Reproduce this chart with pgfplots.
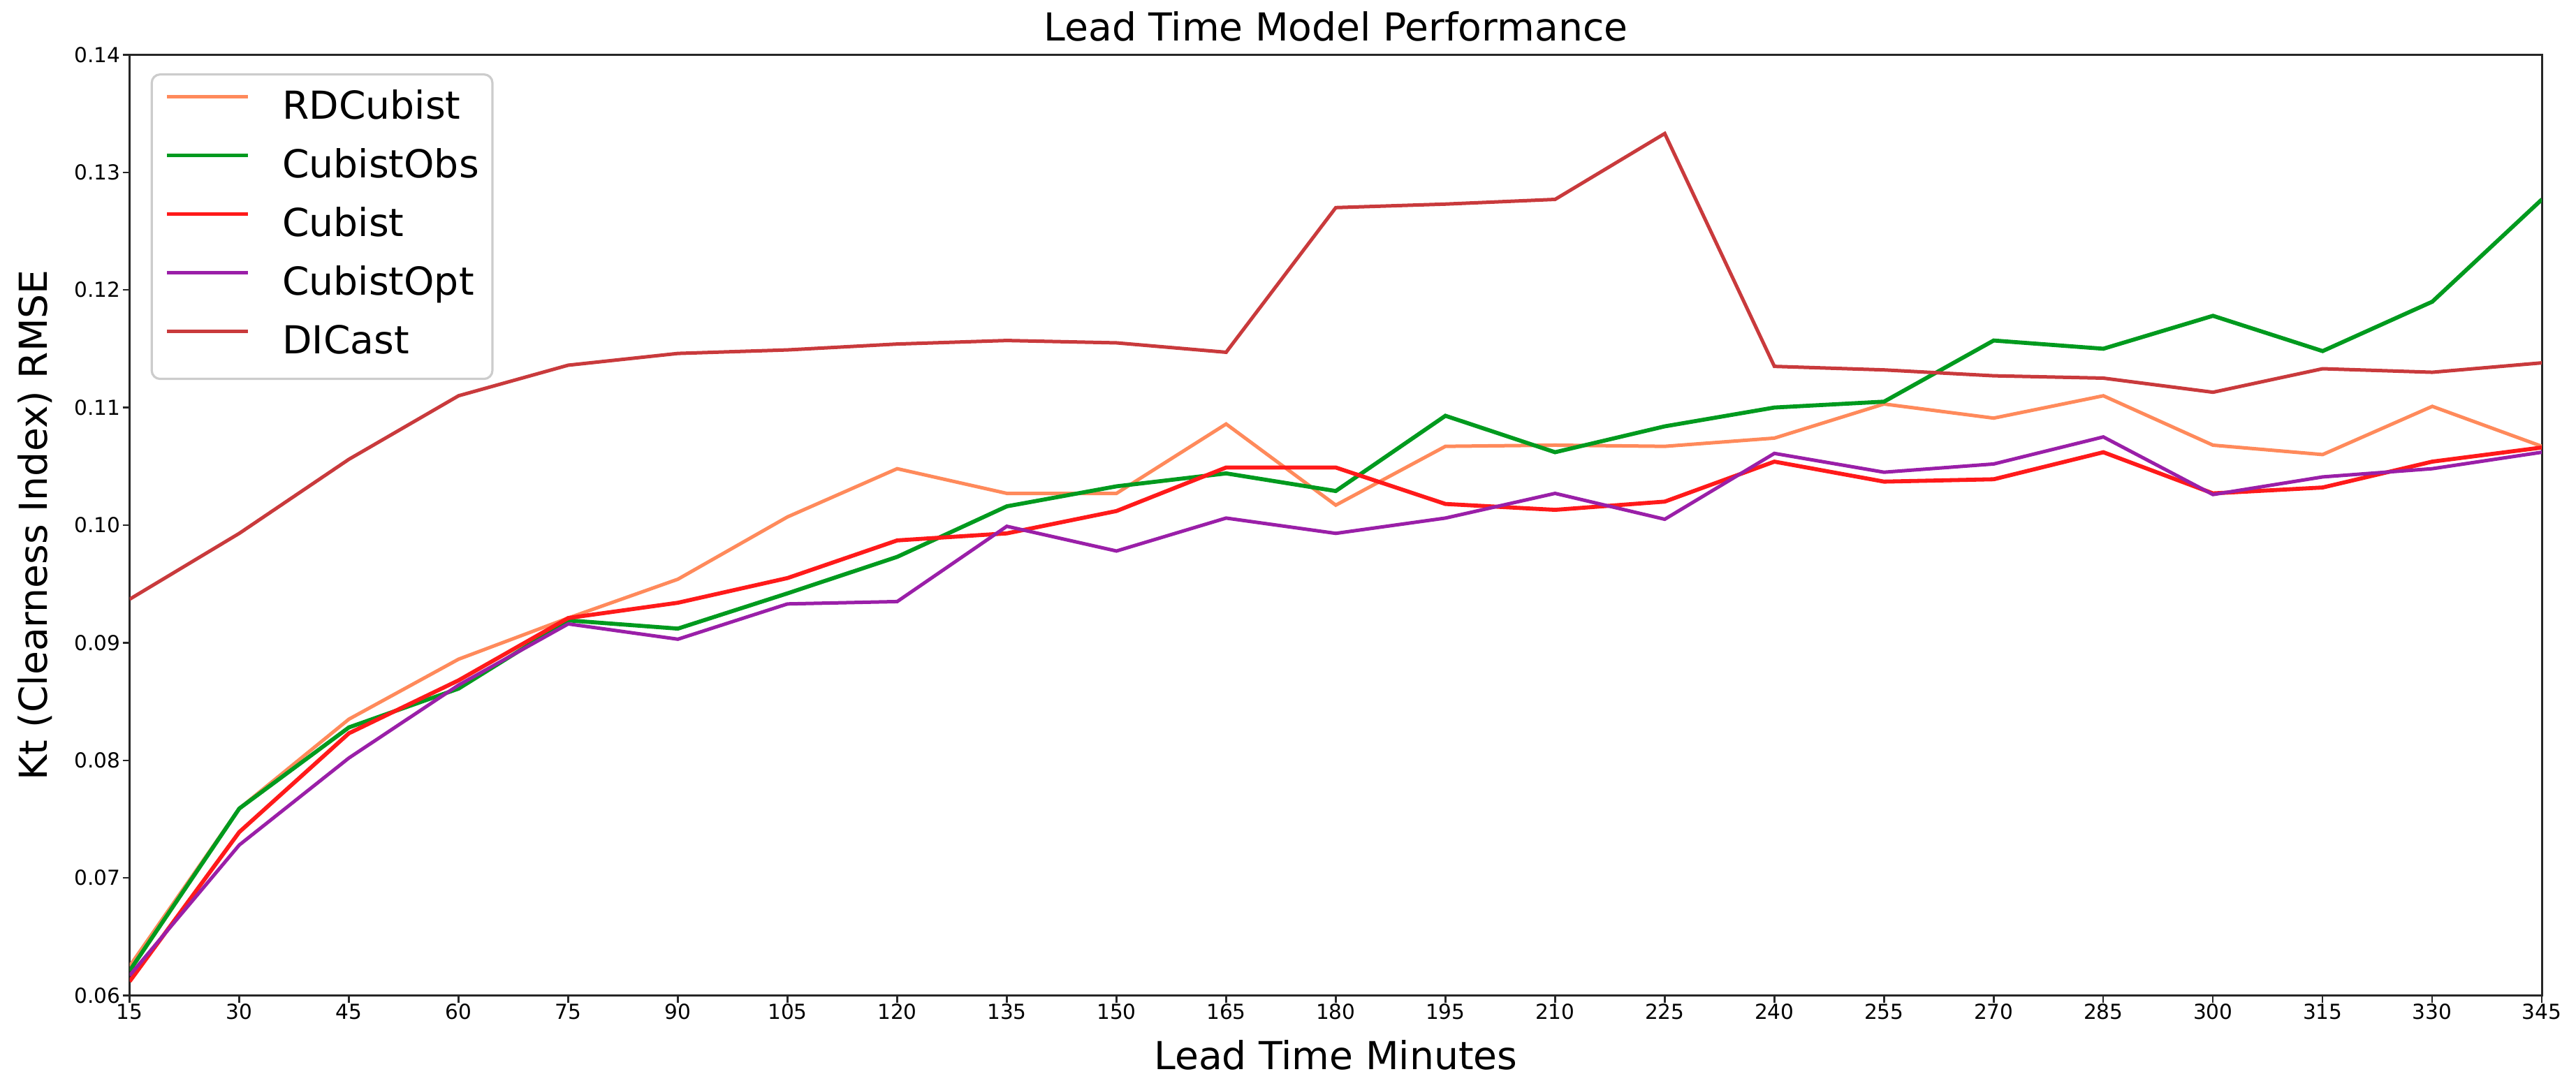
\documentclass[border=0pt]{standalone}
\usepackage{fontspec}
\setmainfont{DejaVu Sans}
\usepackage{pgfplots}
\usepackage{pgfplotstable}
\pgfplotsset{compat=1.18}

\definecolor{rdcubist}{HTML}{FF8A5B}
\definecolor{cubistobs}{HTML}{009A1E}
\definecolor{cubist}{HTML}{FF1A1A}
\definecolor{cubistopt}{HTML}{9A1FA8}
\definecolor{dicast}{HTML}{C93A3C}
\definecolor{legframe}{HTML}{CCCCCC}

% lead time (min) and RMSE per model
\pgfplotstableread{
lead rdcubist cubistobs cubist cubistopt dicast
15  0.0625 0.0621 0.0612 0.0617 0.0937
30  0.0759 0.0759 0.0739 0.0728 0.0993
45  0.0835 0.0828 0.0823 0.0802 0.1056
60  0.0886 0.0861 0.0868 0.0864 0.1110
75  0.0921 0.0919 0.0921 0.0916 0.1136
90  0.0954 0.0912 0.0934 0.0903 0.1146
105 0.1007 0.0942 0.0955 0.0933 0.1149
120 0.1048 0.0973 0.0987 0.0935 0.1154
135 0.1027 0.1016 0.0993 0.0999 0.1157
150 0.1027 0.1033 0.1012 0.0978 0.1155
165 0.1086 0.1044 0.1049 0.1006 0.1147
180 0.1017 0.1029 0.1049 0.0993 0.1270
195 0.1067 0.1093 0.1018 0.1006 0.1273
210 0.1068 0.1062 0.1013 0.1027 0.1277
225 0.1067 0.1084 0.1020 0.1005 0.1333
240 0.1074 0.1100 0.1054 0.1061 0.1135
255 0.1103 0.1105 0.1037 0.1045 0.1132
270 0.1091 0.1157 0.1039 0.1052 0.1127
285 0.1110 0.1150 0.1062 0.1075 0.1125
300 0.1068 0.1178 0.1027 0.1026 0.1113
315 0.1060 0.1148 0.1032 0.1041 0.1133
330 0.1101 0.1190 0.1054 0.1048 0.1130
345 0.1067 0.1277 0.1066 0.1062 0.1138
}\leadtable

\begin{document}
\begin{tikzpicture}
\useasboundingbox (-46.4pt,-33.1pt) rectangle (875.6pt,356.4pt);
\begin{axis}[
  at={(0,0)},anchor=south west,
  width=863.4pt,height=336.8pt,scale only axis,
  xmin=15,xmax=345,ymin=0.06,ymax=0.14,
  xtick={15,30,...,345},
  ytick={0.06,0.07,0.08,0.09,0.10,0.11,0.12,0.13,0.14},
  axis line style={line width=0.8pt,black!85},
  tick align=outside,tick pos=left,
  major tick length=2.5pt,
  every tick/.style={black!85,line width=0.6pt},
  /pgf/number format/assume math mode=true,
  yticklabel={\pgfmathprintnumber[fixed,fixed zerofill,precision=2]{\tick}},
  scaled y ticks=false,
  tick label style={font=\fontsize{7.4}{9}\selectfont},
  yticklabel style={inner sep=0pt,anchor=east,xshift=-0.6pt},
  xticklabel style={inner sep=0pt,anchor=north,yshift=-0.4pt},
  title={Lead Time Model Performance},
  every axis title shift=0pt,
  title style={font=\fontsize{13.8}{16}\selectfont,at={(axis description cs:0.5,1.0151)},anchor=base,inner sep=0pt},
  xlabel={Lead Time Minutes},
  xlabel style={font=\fontsize{13.8}{16}\selectfont,at={(axis description cs:0.5,-0.0790)},anchor=base,inner sep=0pt},
  ylabel={Kt (Clearness Index) RMSE},
  ylabel style={font=\fontsize{13.8}{16}\selectfont,at={(axis description cs:-0.0341,0.5)},rotate=0,anchor=base,inner sep=0pt},
  legend cell align=left,
  legend image code/.code={\draw[#1] (0pt,4.5pt) -- (29pt,4.5pt);},
  legend style={
    at={(axis description cs:0.00869,0.98026)},anchor=north west,
    draw=legframe,line width=0.8pt,rounded corners=3pt,
    fill=white,fill opacity=0.8,text opacity=1,
    inner xsep=4.8pt,inner ysep=6pt,
    row sep=8pt,
    font=\fontsize{13.8}{16}\selectfont,
    nodes={inner sep=0pt,text height=10pt,text depth=3pt},
    /tikz/every odd column/.append style={column sep=11.5pt},
  },
]
\addplot[rdcubist,line width=1.25pt] table[x=lead,y=rdcubist] {\leadtable};
\addlegendentry{RDCubist}
\addplot[cubistobs,line width=1.45pt] table[x=lead,y=cubistobs] {\leadtable};
\addlegendentry{CubistObs}
\addplot[cubist,line width=1.45pt] table[x=lead,y=cubist] {\leadtable};
\addlegendentry{Cubist}
\addplot[cubistopt,line width=1.25pt] table[x=lead,y=cubistopt] {\leadtable};
\addlegendentry{CubistOpt}
\addplot[dicast,line width=1.25pt] table[x=lead,y=dicast] {\leadtable};
\addlegendentry{DICast}
\end{axis}
\end{tikzpicture}
\end{document}
